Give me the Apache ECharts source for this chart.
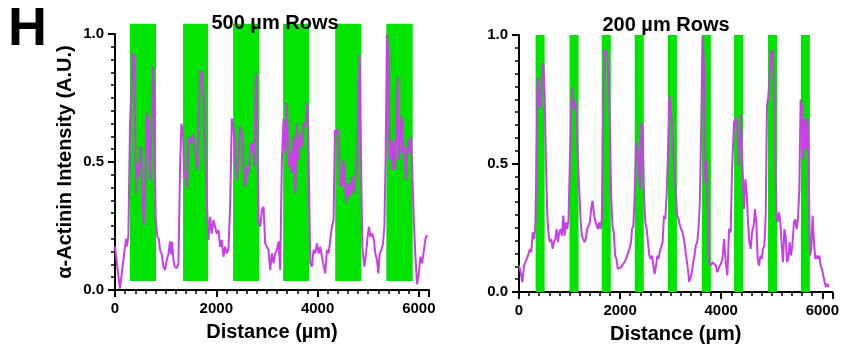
<!DOCTYPE html>
<html>
<head>
<meta charset="utf-8">
<script src="https://cdn.jsdelivr.net/npm/echarts@6/dist/echarts.min.js"></script>
<style>
html,body{margin:0;padding:0;background:#fff;}
#chart{width:842px;height:349px;}
</style>
</head>
<body>
<div id="chart"></div>
<script>
// ---- Data ----
const panelTitles = ['500 µm Rows', '200 µm Rows'];
const xAxisTitle = 'Distance (µm)';
const yAxisTitle = 'α-Actinin Intensity (A.U.)';
const panelLetter = 'H';

// Green pattern bands [startX, endX, yBottom, yTop]
const leftBands = [
  [296, 810, 0.035, 1.04], [1344, 1838, 0.035, 1.04], [2332, 2846, 0.035, 1.04],
  [3320, 3834, 0.035, 1.04], [4348, 4862, 0.035, 1.04], [5358, 5878, 0.035, 1.04]
];
const rightBands = [
  [329, 507, 0, 1], [1000, 1178, 0, 1], [1637, 1815, 0, 1], [2290, 2468, 0, 1],
  [2947, 3124, 0, 1], [3617, 3795, 0, 1], [4255, 4432, 0, 1], [4926, 5104, 0, 1],
  [5576, 5754, 0, 1]
];

// α-Actinin intensity profiles [distance µm, intensity]
const leftProfile = [
  [0,0.17],[46,0.09],[98,0.005],[165,0.117],[218,0.2],[238,0.17],[264,0.21],[296,0.645],[329,0.65],
  [356,0.925],[376,0.91],[415,0.378],[442,0.495],[467,0.44],[494,0.52],[514,0.56],[534,0.43],[567,0.254],
  [600,0.43],[627,0.69],[652,0.66],[692,0.43],[718,0.61],[751,0.872],[778,0.66],[804,0.273],[837,0.208],
  [863,0.2],[890,0.156],[923,0.14],[956,0.09],[989,0.078],[1021,0.117],[1054,0.14],[1087,0.19],[1107,0.14],
  [1127,0.188],[1154,0.117],[1179,0.09],[1219,0.085],[1252,0.104],[1285,0.48],[1312,0.65],[1345,0.61],
  [1364,0.44],[1397,0.455],[1423,0.4],[1450,0.573],[1483,0.599],[1510,0.573],[1536,0.61],[1568,0.56],
  [1601,0.508],[1628,0.47],[1654,0.66],[1681,0.859],[1714,0.846],[1746,0.78],[1779,0.56],[1812,0.35],
  [1846,0.195],[1879,0.286],[1911,0.22],[1944,0.273],[1977,0.273],[2010,0.22],[2043,0.234],[2076,0.169],
  [2108,0.195],[2142,0.13],[2175,0.169],[2208,0.143],[2241,0.163],[2273,0.325],[2306,0.67],[2339,0.638],
  [2373,0.508],[2406,0.43],[2439,0.534],[2471,0.638],[2504,0.612],[2537,0.469],[2571,0.404],[2604,0.482],
  [2636,0.456],[2669,0.56],[2702,0.573],[2735,0.534],[2755,0.482],[2782,0.846],[2807,0.664],[2834,0.273],
  [2867,0.247],[2900,0.313],[2933,0.325],[2966,0.182],[2998,0.169],[3031,0.156],[3064,0.078],[3098,0.143],
  [3131,0.104],[3163,0.143],[3196,0.156],[3229,0.19],[3262,0.078],[3295,0.508],[3328,0.67],[3361,0.534],
  [3394,0.73],[3427,0.482],[3460,0.534],[3493,0.456],[3525,0.599],[3558,0.378],[3591,0.651],[3625,0.508],
  [3658,0.612],[3691,0.56],[3723,0.651],[3756,0.638],[3796,0.73],[3822,0.534],[3855,0.104],[3888,0.091],
  [3921,0.156],[3954,0.143],[3987,0.182],[4020,0.143],[4053,0.169],[4085,0.13],[4119,0.13],[4151,0.065],
  [4185,0.156],[4218,0.143],[4250,0.195],[4283,0.247],[4316,0.273],[4343,0.625],[4369,0.612],[4396,0.63],
  [4422,0.534],[4448,0.417],[4481,0.404],[4514,0.508],[4547,0.391],[4567,0.339],[4594,0.417],[4619,0.365],
  [4646,0.378],[4679,0.443],[4712,0.378],[4745,0.43],[4778,0.495],[4804,0.66],[4830,0.918],[4857,0.534],
  [4883,0.169],[4923,0.091],[4956,0.143],[4988,0.208],[5015,0.247],[5041,0.208],[5075,0.221],[5108,0.2],
  [5141,0.143],[5173,0.117],[5199,0.065],[5226,0.143],[5259,0.156],[5292,0.182],[5319,0.247],[5344,0.521],
  [5371,1.0],[5397,0.898],[5424,0.508],[5450,0.586],[5477,0.469],[5503,0.586],[5529,0.469],[5556,0.625],
  [5582,0.833],[5609,0.508],[5635,0.612],[5662,0.677],[5688,0.534],[5714,0.56],[5740,0.43],[5767,0.534],
  [5793,0.586],[5820,0.534],[5847,0.599],[5873,0.592],[5905,0.247],[5932,0.13],[5965,0.022],[5998,0.065],
  [6030,0.13],[6063,0.104],[6096,0.15],[6129,0.2],[6162,0.215]
];
const rightProfile = [
  [0,0.103],[33,0.077],[66,0.038],[99,0.103],[132,0.109],[165,0.135],[191,0.129],[218,0.167],[244,0.155],
  [270,0.232],[297,0.206],[323,0.258],[342,0.478],[369,0.833],[389,0.801],[408,0.717],[434,0.749],[461,0.84],
  [481,0.891],[507,0.775],[533,0.504],[560,0.297],[586,0.219],[612,0.194],[638,0.206],[665,0.168],[691,0.194],
  [718,0.206],[744,0.245],[770,0.194],[797,0.232],[823,0.245],[849,0.219],[876,0.297],[902,0.219],[928,0.271],
  [954,0.245],[980,0.284],[1006,0.504],[1033,0.724],[1059,0.795],[1085,0.711],[1112,0.743],[1138,0.685],
  [1164,0.517],[1191,0.4],[1217,0.284],[1243,0.219],[1270,0.206],[1296,0.194],[1322,0.206],[1349,0.245],
  [1375,0.258],[1401,0.271],[1428,0.323],[1454,0.355],[1480,0.31],[1507,0.277],[1533,0.271],[1559,0.245],
  [1586,0.271],[1612,0.245],[1638,0.284],[1664,0.698],[1691,0.943],[1717,0.949],[1743,0.93],[1770,0.866],
  [1796,0.659],[1822,0.375],[1849,0.258],[1875,0.232],[1901,0.142],[1928,0.129],[1954,0.09],[1986,0.09],
  [2019,0.097],[2052,0.103],[2085,0.116],[2118,0.129],[2151,0.135],[2183,0.168],[2216,0.194],[2236,0.245],
  [2262,0.258],[2288,0.375],[2315,0.581],[2341,0.555],[2368,0.478],[2394,0.4],[2420,0.659],[2446,0.646],
  [2473,0.375],[2499,0.271],[2525,0.245],[2552,0.194],[2578,0.142],[2604,0.129],[2631,0.142],[2657,0.103],
  [2683,0.071],[2710,0.103],[2736,0.142],[2762,0.129],[2789,0.161],[2815,0.168],[2841,0.194],[2867,0.297],
  [2894,0.284],[2920,0.375],[2946,0.53],[2972,0.762],[2999,0.756],[3025,0.659],[3051,0.555],[3078,0.465],
  [3104,0.375],[3130,0.297],[3157,0.284],[3183,0.258],[3209,0.245],[3235,0.232],[3262,0.206],[3288,0.168],
  [3314,0.129],[3341,0.09],[3367,0.039],[3393,0.032],[3420,0.077],[3446,0.116],[3472,0.142],[3498,0.181],
  [3525,0.194],[3551,0.245],[3577,0.349],[3604,0.633],[3630,0.995],[3656,0.891],[3683,0.426],[3709,0.51],
  [3735,0.504],[3761,0.116],[3794,0.103],[3827,0.116],[3860,0.116],[3893,0.103],[3925,0.077],[3958,0.097],
  [3991,0.109],[4024,0.129],[4056,0.206],[4089,0.116],[4122,0.064],[4155,0.245],[4188,0.232],[4214,0.478],
  [4254,0.659],[4287,0.678],[4320,0.633],[4352,0.491],[4385,0.691],[4418,0.504],[4451,0.323],[4477,0.439],
  [4504,0.388],[4530,0.271],[4556,0.194],[4583,0.168],[4609,0.232],[4642,0.258],[4668,0.323],[4695,0.271],
  [4721,0.129],[4748,0.103],[4774,0.142],[4800,0.129],[4827,0.168],[4853,0.181],[4880,0.297],[4906,0.724],
  [4932,0.762],[4959,0.852],[4985,0.93],[5012,0.943],[5038,0.827],[5064,0.569],[5091,0.31],[5117,0.271],
  [5143,0.31],[5170,0.271],[5196,0.181],[5222,0.116],[5249,0.245],[5275,0.219],[5301,0.116],[5328,0.129],
  [5354,0.194],[5380,0.142],[5407,0.181],[5439,0.271],[5466,0.284],[5492,0.245],[5519,0.284],[5545,0.4],
  [5571,0.749],[5598,0.724],[5624,0.517],[5650,0.672],[5677,0.555],[5703,0.678],[5729,0.504],[5755,0.142],
  [5782,0.168],[5808,0.297],[5834,0.194],[5861,0.129],[5887,0.142],[5913,0.129],[5940,0.142],[5966,0.103],
  [5992,0.09],[6019,0.064],[6045,0.039],[6071,0.019],[6098,0.032],[6130,0.019]
];

// ---- Styles ----
const GREEN = '#00e400';
const PURPLE = '#c93fe8';
const FONT = '"Liberation Sans", Arial, sans-serif';

const chart = echarts.init(document.getElementById('chart'), null, {renderer: 'canvas'});

function xAxisCfg(idx) {
  return {
    type: 'value', gridIndex: idx, min: 0, max: 6200, interval: 2000,
    name: xAxisTitle, nameLocation: 'middle', nameGap: 32,
    nameTextStyle: {fontFamily: FONT, fontWeight: 'bold', fontSize: 20, color: '#000'},
    axisLine: {show: true, onZero: false, lineStyle: {color: '#000', width: 2}},
    axisTick: {show: true, length: 7, lineStyle: {color: '#000', width: 2}},
    minorTick: {show: true, splitNumber: 10, length: 4, lineStyle: {color: '#000', width: 1.5}},
    axisLabel: {fontFamily: FONT, fontWeight: 'bold', fontSize: 15, color: '#000', margin: 11, showMaxLabel: false,
      formatter: v => (v % 2000 === 0 ? String(v) : '')},
    splitLine: {show: false}
  };
}
function yAxisCfg(idx, withName) {
  return {
    type: 'value', gridIndex: idx, min: 0, max: 1, interval: 0.5,
    name: withName ? yAxisTitle : '', nameLocation: 'middle', nameGap: 40,
    nameTextStyle: {fontFamily: FONT, fontWeight: 'bold', fontSize: 20, color: '#000'},
    axisLine: {show: true, onZero: false, lineStyle: {color: '#000', width: 2}},
    axisTick: {show: true, length: 7, lineStyle: {color: '#000', width: 2}},
    minorTick: {show: true, splitNumber: 10, length: 4, lineStyle: {color: '#000', width: 1.5}},
    axisLabel: {fontFamily: FONT, fontWeight: 'bold', fontSize: 15, color: '#000', margin: 11,
      formatter: v => v.toFixed(1)},
    splitLine: {show: false}
  };
}
function bandSeries(idx, bands) {
  return {
    type: 'custom', xAxisIndex: idx, yAxisIndex: idx, clip: false, z: 1, silent: true,
    data: bands,
    encode: {x: [0, 1], y: [2, 3]},
    renderItem: (params, api) => {
      const p0 = api.coord([api.value(0), api.value(3)]);
      const p1 = api.coord([api.value(1), api.value(2)]);
      return {type: 'rect', shape: {x: p0[0], y: p0[1], width: p1[0] - p0[0], height: p1[1] - p0[1]},
        style: {fill: GREEN}};
    }
  };
}
function lineSeries(idx, data) {
  return {
    type: 'line', xAxisIndex: idx, yAxisIndex: idx, data: data, showSymbol: false, symbol: 'none',
    z: 3, clip: false, lineStyle: {color: PURPLE, width: 2}
  };
}

chart.setOption({
  animation: false,
  backgroundColor: '#fff',
  title: [
    {text: panelLetter, left: 3, top: -2, textStyle: {fontFamily: FONT, fontWeight: 'bold', fontSize: 54, color: '#000'}},
    {text: panelTitles[0], left: 270, top: 8, textAlign: 'center', textStyle: {fontFamily: FONT, fontWeight: 'bold', fontSize: 20, color: '#000'}},
    {text: panelTitles[1], left: 661, top: 10, textAlign: 'center', textStyle: {fontFamily: FONT, fontWeight: 'bold', fontSize: 20, color: '#000'}}
  ],
  grid: [
    {left: 115, top: 34, width: 314, height: 256},
    {left: 519, top: 35, width: 314, height: 258}
  ],
  xAxis: [xAxisCfg(0), xAxisCfg(1)],
  yAxis: [yAxisCfg(0, true), yAxisCfg(1, false)],
  series: [
    bandSeries(0, leftBands),
    lineSeries(0, leftProfile),
    bandSeries(1, rightBands),
    lineSeries(1, rightProfile)
  ]
});
</script>
</body>
</html>
